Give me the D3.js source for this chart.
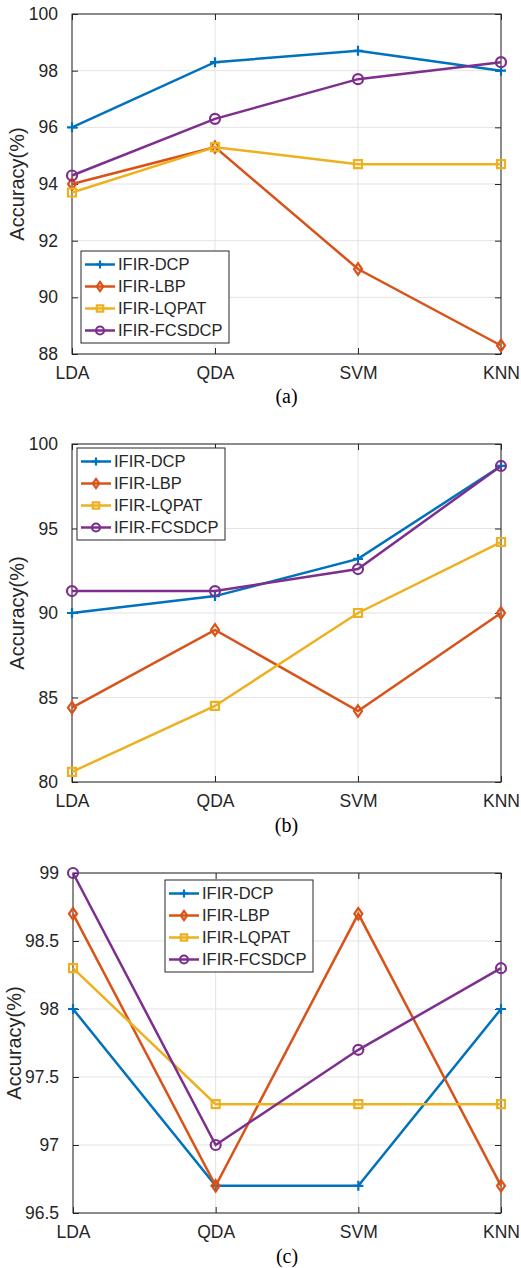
<!DOCTYPE html>
<html>
<head>
<meta charset="utf-8">
<script src="https://cdn.jsdelivr.net/npm/d3@7"></script>
<style>
  body { margin: 0; background: #fff; }
  svg { display: block; }
</style>
</head>
<body>
<div id="chart"></div>
<script>
const categories = ['LDA', 'QDA', 'SVM', 'KNN'];
const seriesNames = ['IFIR-DCP', 'IFIR-LBP', 'IFIR-LQPAT', 'IFIR-FCSDCP'];

// panel (a)
const dcpA = [96.0, 98.3, 98.7, 98.0];
const lbpA = [94.0, 95.3, 91.0, 88.3];
const lqpatA = [93.7, 95.3, 94.7, 94.7];
const fcsdcpA = [94.3, 96.3, 97.7, 98.3];
const ticksA = [88, 90, 92, 94, 96, 98, 100];

// panel (b)
const dcpB = [90.0, 91.0, 93.2, 98.7];
const lbpB = [84.4, 89.0, 84.2, 90.0];
const lqpatB = [80.6, 84.5, 90.0, 94.2];
const fcsdcpB = [91.3, 91.3, 92.6, 98.7];
const ticksB = [80, 85, 90, 95, 100];

// panel (c)
const dcpC = [98.0, 96.7, 96.7, 98.0];
const lbpC = [98.7, 96.7, 98.7, 96.7];
const lqpatC = [98.3, 97.3, 97.3, 97.3];
const fcsdcpC = [99.0, 97.0, 97.7, 98.3];
const ticksC = [96.5, 97, 97.5, 98, 98.5, 99];

const colors = ['#0072BD', '#D95319', '#EDB120', '#7E2F8E'];
const markers = ['plus', 'diamond', 'square', 'circle'];
const axisColor = '#262626';
const font = 'Arial, "Liberation Sans", Helvetica, sans-serif';

const W = 521, H = 1268;
const svg = d3.select('#chart').append('svg')
  .attr('width', W).attr('height', H);

function markerPath(type, s) {
  const h = s / 2;
  if (type === 'plus') return `M${-h},0H${h}M0,${-h}V${h}`;
  if (type === 'diamond') return `M0,${-h * 1.15}L${h * 0.8},0L0,${h * 1.15}L${-h * 0.8},0Z`;
  if (type === 'square') return `M${-h * 0.8},${-h * 0.8}H${h * 0.8}V${h * 0.8}H${-h * 0.8}Z`;
  return null;
}

function drawMarker(g, type, color, x, y, s) {
  if (type === 'circle') {
    g.append('circle').attr('cx', x).attr('cy', y).attr('r', s / 2)
      .attr('fill', 'none').attr('stroke', color).attr('stroke-width', 2.2);
  } else {
    g.append('path').attr('d', markerPath(type, s))
      .attr('transform', `translate(${x},${y})`)
      .attr('fill', 'none').attr('stroke', color).attr('stroke-width', 2.2);
  }
}

function drawPanel(p) {
  const g = svg.append('g');
  const x = d3.scalePoint().domain(categories).range([p.left, p.right]);
  const y = d3.scaleLinear().domain([p.ticks[0], p.ticks[p.ticks.length - 1]]).range([p.bottom, p.top]);

  // grid
  g.append('g').selectAll('line.gy').data(p.ticks).enter().append('line')
    .attr('x1', p.left).attr('x2', p.right)
    .attr('y1', d => y(d)).attr('y2', d => y(d))
    .attr('stroke', '#e3e3e3').attr('stroke-width', 1);
  g.append('g').selectAll('line.gx').data(categories).enter().append('line')
    .attr('x1', d => x(d)).attr('x2', d => x(d))
    .attr('y1', p.top).attr('y2', p.bottom)
    .attr('stroke', '#e3e3e3').attr('stroke-width', 1);

  // axes with inward ticks
  const tk = 6;
  const left = g.append('g').attr('transform', `translate(${p.left},0)`)
    .call(d3.axisLeft(y).tickValues(p.ticks).tickSize(-tk).tickPadding(tk + 8).tickFormat(d3.format('')));
  const right = g.append('g').attr('transform', `translate(${p.right},0)`)
    .call(d3.axisRight(y).tickValues(p.ticks).tickSize(-tk).tickFormat(''));
  const bottom = g.append('g').attr('transform', `translate(0,${p.bottom})`)
    .call(d3.axisBottom(x).tickSize(-tk).tickPadding(tk + 7));
  const top = g.append('g').attr('transform', `translate(0,${p.top})`)
    .call(d3.axisTop(x).tickSize(-tk).tickFormat(''));
  [left, right, bottom, top].forEach(a => {
    a.select('.domain').remove();
    a.selectAll('line').attr('stroke', axisColor);
    a.selectAll('text').attr('fill', axisColor).style('font-family', font).style('font-size', '17.5px');
  });
  g.append('rect').attr('x', p.left).attr('y', p.top)
    .attr('width', p.right - p.left).attr('height', p.bottom - p.top)
    .attr('fill', 'none').attr('stroke', axisColor).attr('stroke-width', 1);

  // y label
  g.append('text')
    .attr('transform', `translate(${p.ylabelX},${(p.top + p.bottom) / 2}) rotate(-90)`)
    .attr('text-anchor', 'middle')
    .attr('fill', axisColor)
    .style('font-family', font).style('font-size', '20px')
    .text('Accuracy(%)');

  // series
  const line = d3.line().x((d, i) => x(categories[i])).y(d => y(d));
  p.series.forEach((vals, si) => {
    const sg = g.append('g');
    sg.append('path').datum(vals).attr('d', line)
      .attr('fill', 'none').attr('stroke', colors[si]).attr('stroke-width', 2.5);
    vals.forEach((v, i) => drawMarker(sg, markers[si], colors[si], x(categories[i]), y(v), 10));
  });

  // legend
  const lg = g.append('g').attr('transform', `translate(${p.legX},${p.legY})`);
  lg.append('rect').attr('width', 148).attr('height', 92)
    .attr('fill', '#fff').attr('stroke', axisColor).attr('stroke-width', 1);
  seriesNames.forEach((name, i) => {
    const cy = 13.5 + i * 22;
    lg.append('line').attr('x1', 4).attr('x2', 34).attr('y1', cy).attr('y2', cy)
      .attr('stroke', colors[i]).attr('stroke-width', 2.5);
    drawMarker(lg, markers[i], colors[i], 19, cy, 8);
    lg.append('text').attr('x', 37).attr('y', cy).attr('dy', '0.35em')
      .attr('fill', axisColor)
      .style('font-family', font).style('font-size', '16.5px')
      .text(name);
  });

  // caption
  g.append('text').attr('x', (p.left + p.right) / 2).attr('y', p.captionY)
    .attr('text-anchor', 'middle').attr('fill', '#000')
    .style('font-family', '"Liberation Serif", "Times New Roman", serif').style('font-size', '20px')
    .text(p.caption);
}

drawPanel({
  left: 72, right: 501, top: 14, bottom: 354, ticks: ticksA,
  series: [dcpA, lbpA, lqpatA, fcsdcpA],
  legX: 81, legY: 251, ylabelX: 24, caption: '(a)', captionY: 403
});
drawPanel({
  left: 72, right: 501, top: 444, bottom: 782, ticks: ticksB,
  series: [dcpB, lbpB, lqpatB, fcsdcpB],
  legX: 77, legY: 448, ylabelX: 24, caption: '(b)', captionY: 832
});
drawPanel({
  left: 73, right: 501, top: 873, bottom: 1213, ticks: ticksC,
  series: [dcpC, lbpC, lqpatC, fcsdcpC],
  legX: 165, legY: 880, ylabelX: 21, caption: '(c)', captionY: 1263
});
</script>
</body>
</html>
